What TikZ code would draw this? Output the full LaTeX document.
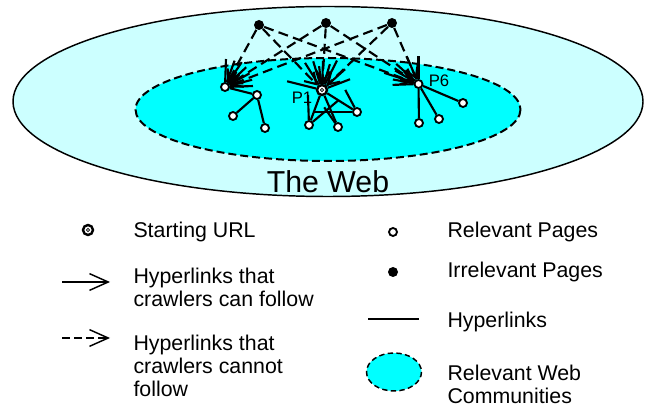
\documentclass[tikz,border=0pt]{standalone}
\usepackage{fontspec}
\setmainfont{Liberation Sans}
\usetikzlibrary{arrows.meta}

\definecolor{webcyan}{RGB}{204,255,255}
\definecolor{commcyan}{RGB}{0,255,255}

\tikzset{every picture/.style={line width=0.75pt}}
\tikzset{
  relpage/.style={circle,draw,fill=white,line width=1.4pt,minimum size=6pt,inner sep=0pt},
  irrpage/.style={circle,fill=black,minimum size=7.5pt,inner sep=0pt},
  starturl/.style={circle,draw,fill=white,line width=1.8pt,minimum size=7.5pt,inner sep=0pt,
    path picture={\draw[line width=0.5pt] (path picture bounding box.center) circle (1.2pt);}},
  link/.style={line width=1.6pt},
  nofollow/.style={line width=1.6pt,dash pattern=on 7.5pt off 4pt,-{Straight Barb[length=8pt,width=10pt]}},
  keytext/.style={anchor=base west,inner sep=0pt,align=left,font=\fontsize{16}{17.5}\selectfont},
}

\begin{document}
\begin{tikzpicture}[x=0.75pt,y=0.75pt,yscale=-1,xscale=1]
\useasboundingbox (0,0) rectangle (646,409);

%Shape: Ellipse
\draw [fill=webcyan, line width=1.1pt] (328,101.5) ellipse (315 and 95);
%Shape: Ellipse
\draw [fill=commcyan, line width=1.5pt, dash pattern=on 6pt off 3pt] (328,109.5) ellipse (192.5 and 51.5);

% Text Node
\node [anchor=base, inner sep=0pt, font=\fontsize{22.7}{26}\selectfont] (webLabel) at (328,193) {The Web};

%Pages
\node [irrpage] (irr1) at (259,25) {};
\node [irrpage] (irr2) at (326,23) {};
\node [irrpage] (irr3) at (392,23) {};
\node [relpage] (hubL) at (225,87) {};
\node [relpage] (l2) at (257,95) {};
\node [relpage] (l3) at (233,116) {};
\node [relpage] (l4) at (265,128) {};
\node [starturl] (pOne) at (322,90) {};
\node [relpage] (a1) at (309,125) {};
\node [relpage] (a2) at (338,127) {};
\node [relpage] (a3) at (357,112) {};
\node [relpage] (pSix) at (418.5,84) {};
\node [relpage] (s1) at (419,123) {};
\node [relpage] (s2) at (439,119) {};
\node [relpage] (s3) at (463,103) {};

% Text Node
\node [inner sep=0pt, font=\fontsize{12.5}{14}\selectfont] (pOneLabel) at (302,98) {P1};
% Text Node
\node [inner sep=0pt, font=\fontsize{12.5}{14}\selectfont] (pSixLabel) at (439,81) {P6};

%Hyperlinks crawlers cannot follow
\foreach \i in {irr1,irr2,irr3}
  \foreach \j in {hubL,pOne,pSix}
    \draw [nofollow] (\i) -- (\j);

%Straight Lines
\foreach \a/\r in {-88/28,-70/28,-56/30,-43/29,-29/28,-15/28,-2/28}
  \draw [link] (hubL) -- +(\a:\r);
\foreach \a/\r in {-166/36,-122/32,-107/30,-97/24,-88/29,-73/27,-63/33,-42/31,-21/30}
  \draw [link] (pOne) -- +(\a:\r);
\foreach \a/\r in {-90/28,-113/30,-138/30,-150/27,-162/36,-170/26,178/26}
  \draw [link] (pSix) -- +(\a:\r);

\draw [link] (hubL) -- (l2);
\draw [link] (l2) -- (l3);
\draw [link] (l2) -- (l4);
\draw [link] (pOne) -- (a1);
\draw [link] (pOne) -- (a2);
\draw [link] (pOne) -- (a3);
\draw [link] (a1) -- +(-92:30);
\draw [link] (a1) -- +(-40:38);
\draw [link] (a2) -- +(-125:24);
\draw [link] (a3) -- +(-118:25);
\draw [link] (a3) -- +(180:44);
\draw [link] (pSix) -- (s1);
\draw [link] (pSix) -- (s2);
\draw [link] (pSix) -- (s3);

%Legend
\node [starturl] (keyStart) at (88,230) {};
% Text Node
\node [keytext] (txtStart) at (133,238) {Starting URL};

\coordinate (keyFollowA) at (62,282);
\coordinate (keyFollowB) at (110,282);
\draw [line width=1.1pt, -{Straight Barb[length=14pt,width=12.5pt]}] (keyFollowA) -- (keyFollowB);
% Text Node
\node [keytext] (txtFollow) at (133,307) {Hyperlinks that\\crawlers can follow};

\coordinate (keyNoFollowA) at (62,338);
\coordinate (keyNoFollowB) at (110,338);
\draw [line width=1.1pt, dash pattern=on 6pt off 3pt, -{Straight Barb[length=14pt,width=12.5pt]}] (keyNoFollowA) -- (keyNoFollowB);
% Text Node
\node [keytext] (txtNoFollow) at (133,397) {Hyperlinks that\\crawlers cannot\\follow};

\node [relpage] (keyRel) at (393,232) {};
% Text Node
\node [keytext] (txtRel) at (447,238) {Relevant Pages};

\node [irrpage] (keyIrr) at (393,272) {};
% Text Node
\node [keytext] (txtIrr) at (447,278) {Irrelevant Pages};

\coordinate (keyLinkA) at (368,319);
\coordinate (keyLinkB) at (419,319);
\draw [line width=1.1pt] (keyLinkA) -- (keyLinkB);
% Text Node
\node [keytext] (txtLink) at (447,328) {Hyperlinks};

%Shape: Ellipse
\draw [fill=commcyan, line width=1.1pt, dash pattern=on 4pt off 2.5pt] (394,372) ellipse (27.5 and 19);
% Text Node
\node [keytext] (txtComm) at (447,404) {Relevant Web\\Communities};

\end{tikzpicture}
\end{document}
